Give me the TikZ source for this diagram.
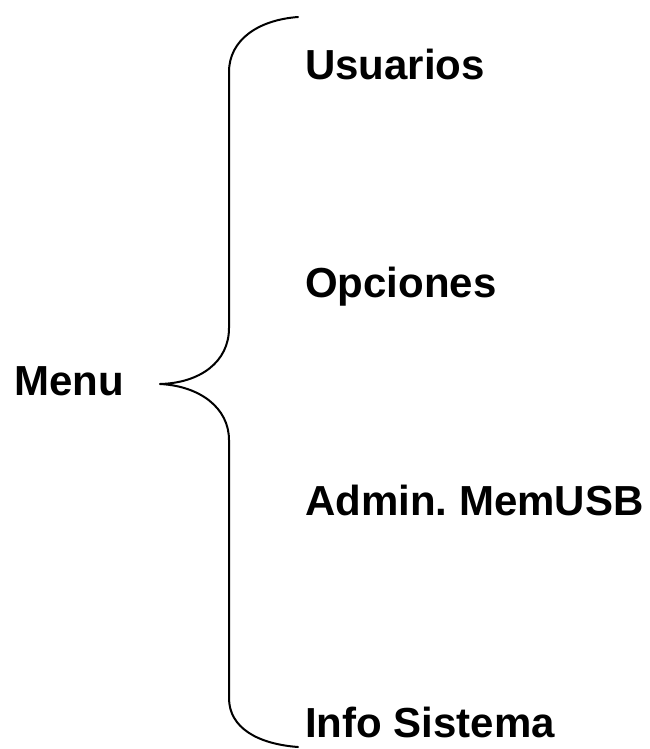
\documentclass[tikz,border=0pt]{standalone}
\usepackage{fontspec}
\setmainfont{Liberation Sans}
\frenchspacing
\begin{document}
\begin{tikzpicture}[x=1pt,y=-1pt,
  lbl/.style={inner sep=0pt,anchor=base west,font=\fontsize{42}{50}\selectfont\bfseries},
  bracestyle/.style={draw=black,line width=2pt,line cap=round,line join=round}]
\useasboundingbox (0,0) rectangle (649,749);
\node[lbl] (menu) at (14,395) {Menu};
\node[lbl] (usu) at (305,80) {Usuarios};
\node[lbl] (opc) at (305,297) {Opciones};
\node[lbl] (adm) at (305,515) {Admin. MemUSB};
\node[lbl] (inf) at (305,737) {Info Sistema};
\coordinate (btop) at (298,17);
\coordinate (btip) at (160,384);
\coordinate (bbot) at (298,747);
\draw[bracestyle] (btop) .. controls (258,20) and (229,40) .. (229,72)
  -- (229,328) .. controls (229,362) and (200,383) .. (btip)
  .. controls (200,386) and (229,408) .. (229,440)
  -- (229,698) .. controls (229,728) and (258,744) .. (bbot);
\end{tikzpicture}
\end{document}
